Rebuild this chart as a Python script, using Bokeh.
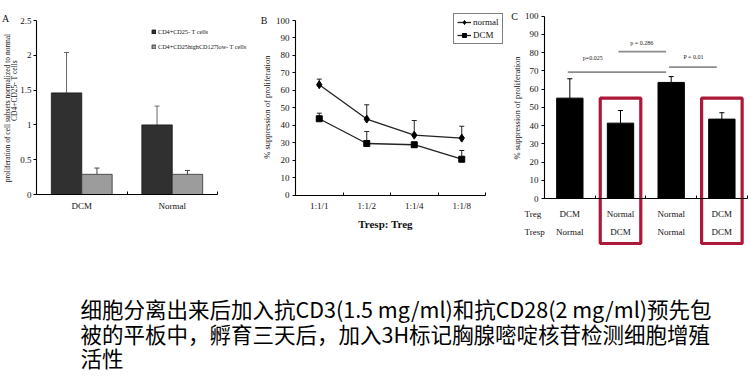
import math
import numpy as np
from bokeh.plotting import figure
from bokeh.models import (Range1d, FixedTicker, ColumnDataSource, Whisker, TeeHead,
                          Legend, LegendItem, NumeralTickFormatter)
from bokeh.layouts import column, row
from bokeh.embed import file_html
from bokeh.resources import INLINE
from bokeh.core.properties import value

# ---------------- data ----------------
# Panel A
a_groups = ["DCM", "Normal"]
a_series = ["CD4+CD25- T cells", "CD4+CD25highCD127low- T cells"]
a_teff = [1.46, 1.00]
a_teff_err = [0.58, 0.27]
a_treg = [0.29, 0.29]
a_treg_err = [0.09, 0.055]
a_yticks = [0, 0.5, 1, 1.5, 2, 2.5]
a_ylabel = ["proliferation of cell subsets normalized to normal", "CD4+CD25- T cells"]

# Panel B
b_ratios = ["1:1/1", "1:1/2", "1:1/4", "1:1/8"]
b_names = ["normal", "DCM"]
b_normal = [63.2, 43.5, 34.3, 32.6]
b_normal_err = [3.2, 8.2, 8.4, 6.8]
b_dcm = [43.7, 29.5, 28.8, 20.5]
b_dcm_err = [3.2, 6.9, 1.0, 5.0]
b_yticks = list(range(0, 101, 10))
b_xlabel = "Tresp: Treg"

# Panel C
c_treg = ["DCM", "Normal", "Normal", "DCM"]
c_tresp = ["Normal", "DCM", "Normal", "DCM"]
c_values = [55.0, 41.3, 63.6, 43.5]
c_err = [10.6, 6.9, 3.2, 3.5]
c_pairs = [(0, 2), (1, 2), (2, 3)]
c_pvalues = ["p=0.025", "p = 0.286", "P = 0.01"]
c_plevels = [69.2, 80.5, 72.0]
c_yticks = list(range(0, 101, 10))
ylabel_pct = "% suppression of proliferation"

caption = [
    "细胞分离出来后加入抗CD3(1.5 mg/ml)和抗CD28(2 mg/ml)预先包",
    "被的平板中，孵育三天后，加入3H标记胸腺嘧啶核苷检测细胞增殖",
    "活性",
]

# ---------------- style ----------------
SERIF = "Liberation Serif"
CJK = "Noto Sans CJK SC"
TXT = "#111111"


def panel(W, H, xpix, xdat, ypix, ydat):
    """Figure whose frame fills the canvas; data xdat/ydat land on pixels xpix/ypix."""
    sx = (xpix[1] - xpix[0]) / (xdat[1] - xdat[0])
    sy = (ypix[0] - ypix[1]) / (ydat[1] - ydat[0])
    x0 = xdat[0] - xpix[0] / sx
    y0 = ydat[0] - (H - ypix[0]) / sy
    p = figure(width=W, height=H, x_range=Range1d(x0, x0 + W / sx),
               y_range=Range1d(y0, y0 + H / sy), output_backend="svg",
               toolbar_location=None, min_border=0)
    p.outline_line_color = None
    p.xgrid.visible = False
    p.ygrid.visible = False
    p.background_fill_color = "white"
    p.border_fill_color = "white"
    for ax in (p.xaxis[0], p.yaxis[0]):
        ax.fixed_location = 0
        ax.axis_line_color = "black"
        ax.axis_line_width = 1.1
        ax.major_label_text_font = SERIF
        ax.major_label_text_font_size = "9px"
        ax.major_label_text_color = TXT
        ax.major_tick_line_color = "black"
        ax.minor_tick_line_color = "black"
    p.yaxis.major_tick_out = 3
    p.yaxis.major_tick_in = 0
    p.yaxis.minor_tick_line_color = None
    p.yaxis.major_label_standoff = 2
    p.yaxis.bounds = (ydat[0], ydat[1])
    p.xaxis.major_tick_in = 0
    p.xaxis.major_tick_out = 0
    p.xaxis.major_tick_line_color = None
    p.xaxis.minor_tick_in = 3
    p.xaxis.minor_tick_out = 0
    p.xaxis.major_label_standoff = 6
    p.xaxis.bounds = (xdat[0], xdat[1])

    def fx(px):
        return x0 + px / sx

    def fy(py):
        return y0 + (H - py) / sy
    return p, fx, fy


def txt(p, xs, ys, texts, size="9px", align="center", angle=0.0, style="normal", color=TXT):
    p.text(x=list(xs), y=list(ys), text=list(texts), angle=angle,
           text_font=value(SERIF), text_font_size=value(size), text_font_style=style,
           text_color=color, text_align=align, text_baseline="middle")


# ---------------- Panel A ----------------
na = len(a_groups)
pA, ax_, ay_ = panel(250, 250, (36, 217), (0, na), (194, 20), (0, a_yticks[-1]))
xa = np.arange(na) + 0.5
off = 0.168
srcA = ColumnDataSource(dict(
    x1=xa - off, x2=xa + off,
    teff=a_teff, teff_up=np.add(a_teff, a_teff_err),
    treg=a_treg, treg_up=np.add(a_treg, a_treg_err)))
rA1 = pA.vbar(x="x1", top="teff", bottom=0, width=0.336, source=srcA,
              fill_color="#303030", line_color="#151515", line_width=0.8)
rA2 = pA.vbar(x="x2", top="treg", bottom=0, width=0.336, source=srcA,
              fill_color="#9c9c9c", line_color="#303030", line_width=0.8)
pA.add_layout(Whisker(base="x1", lower="teff", upper="teff_up", source=srcA,
                      line_color="#6a6a6a", line_width=1, lower_head=None,
                      upper_head=TeeHead(size=5, line_color="#6a6a6a", line_width=1)))
pA.add_layout(Whisker(base="x2", lower="treg", upper="treg_up", source=srcA,
                      line_color="#444444", line_width=1, lower_head=None,
                      upper_head=TeeHead(size=5, line_color="#444444", line_width=1)))
pA.xaxis.ticker = FixedTicker(ticks=list(xa), minor_ticks=list(range(na + 1)))
pA.xaxis.major_label_overrides = {float(x): g for x, g in zip(xa, a_groups)}
pA.yaxis.ticker = FixedTicker(ticks=a_yticks)
pA.yaxis.formatter = NumeralTickFormatter(format="0.[0]")
legA = Legend(items=[LegendItem(label=a_series[0], renderers=[rA1]),
                     LegendItem(label=a_series[1], renderers=[rA2])],
              location=(151, 199), glyph_width=5, glyph_height=5,
              label_text_font=SERIF, label_text_font_size="6.2px", label_text_color=TXT,
              label_height=9, label_width=86, spacing=6, padding=0, margin=0,
              label_standoff=2, border_line_color=None, background_fill_alpha=0)
pA.add_layout(legA)
txt(pA, [ax_(7)], [ay_(107.5)], [a_ylabel[0]], size="7.5px", angle=math.pi / 2)
txt(pA, [ax_(14)], [ay_(90)], [a_ylabel[1]], size="7.5px", angle=math.pi / 2)
txt(pA, [ax_(5)], [ay_(18)], ["A"], size="10px")

# ---------------- Panel B ----------------
nb = len(b_ratios)
pB, bx_, by_ = panel(258, 250, (45, 235), (0, nb), (194.5, 20), (0, b_yticks[-1]))
xb = np.arange(nb) + 0.5
srcB = ColumnDataSource(dict(
    x=xb, normal=b_normal, normal_up=np.add(b_normal, b_normal_err),
    dcm=b_dcm, dcm_up=np.add(b_dcm, b_dcm_err)))
for lo, up in (("normal", "normal_up"), ("dcm", "dcm_up")):
    pB.add_layout(Whisker(base="x", lower=lo, upper=up, source=srcB,
                          line_color="#222222", line_width=1, lower_head=None,
                          upper_head=TeeHead(size=5, line_color="#222222", line_width=1)))
lN = pB.line("x", "normal", source=srcB, line_color="#222222", line_width=1.3)
sN = pB.scatter("x", "normal", source=srcB, marker="diamond", size=8,
                fill_color="black", line_color="black")
lD = pB.line("x", "dcm", source=srcB, line_color="#222222", line_width=1.3)
sD = pB.scatter("x", "dcm", source=srcB, marker="square", size=6,
                fill_color="black", line_color="black")
pB.xaxis.ticker = FixedTicker(ticks=list(xb), minor_ticks=list(range(nb + 1)))
pB.xaxis.major_label_overrides = {float(x): r for x, r in zip(xb, b_ratios)}
pB.yaxis.ticker = FixedTicker(ticks=b_yticks)
pB.yaxis.major_label_standoff = 3
legB = Legend(items=[LegendItem(label=b_names[0], renderers=[lN, sN]),
                     LegendItem(label=b_names[1], renderers=[lD, sD])],
              location=(203, 206), glyph_width=14, glyph_height=10,
              label_text_font=SERIF, label_text_font_size="9px", label_text_color=TXT,
              label_height=10, spacing=3, padding=3, margin=0, label_standoff=2,
              border_line_color="black", border_line_width=1,
              background_fill_color="white")
pB.add_layout(legB)
txt(pB, [bx_(16)], [by_(106.7)], [ylabel_pct], size="8.5px", angle=math.pi / 2)
txt(pB, [bx_(13.7)], [by_(20)], ["B"], size="10px")
txt(pB, [bx_(135)], [by_(223)], [b_xlabel], size="11px", style="bold")

# ---------------- Panel C ----------------
nc = len(c_values)
pC, cx_, cy_ = panel(243, 250, (36, 238.7), (0, nc), (198, 15.5), (0, c_yticks[-1]))
xc = np.arange(nc) + 0.5
srcC = ColumnDataSource(dict(x=xc, v=c_values, up=np.add(c_values, c_err)))
# red frames around the groups whose responders are DCM
hi = [float(x) for x, t in zip(xc, c_tresp) if t == "DCM"]
box_top, box_bottom = 55.0, cy_(243)
pC.rect(x=hi, y=[(box_top + box_bottom) / 2] * len(hi), width=0.8,
        height=box_top - box_bottom, fill_color=None, line_color="#ad1738",
        line_width=3.2)
pC.vbar(x="x", top="v", bottom=0, width=0.52, source=srcC,
        fill_color="black", line_color="black")
pC.add_layout(Whisker(base="x", lower="v", upper="up", source=srcC,
                      line_color="black", line_width=1, lower_head=None,
                      upper_head=TeeHead(size=5, line_color="black", line_width=1)))
# significance bars
x0 = [i + 0.46 for i, j in c_pairs]
x1 = [j + 0.40 for i, j in c_pairs]
pC.segment(x0=x0, y0=c_plevels, x1=x1, y1=c_plevels, line_color="#8c8c8c", line_width=1.8)
p_label_px = [(84.3, 57.7), (133.3, 42.7), (185.0, 56.7)]
txt(pC, [cx_(q[0]) for q in p_label_px], [cy_(q[1]) for q in p_label_px], c_pvalues,
    size="6px", color="#222222")
pC.xaxis.ticker = FixedTicker(ticks=list(xc), minor_ticks=list(range(nc + 1)))
pC.xaxis.major_label_overrides = {float(x): "" for x in xc}
pC.xaxis.major_label_standoff = 0
pC.yaxis.ticker = FixedTicker(ticks=c_yticks)
pC.yaxis.major_label_standoff = 3
row_py = [213.3, 231.7]
txt(pC, xc, [cy_(row_py[0])] * nc, c_treg)
txt(pC, xc, [cy_(row_py[1])] * nc, c_tresp)
txt(pC, [cx_(16)] * 2, [cy_(v) for v in row_py], ["Treg", "Tresp"], align="left")
txt(pC, [cx_(8.7)], [cy_(107.5)], [ylabel_pct], size="8.5px", angle=math.pi / 2)
txt(pC, [cx_(6)], [cy_(15.7)], ["C"], size="10px")

# ---------------- caption ----------------
pCap = figure(width=751, height=132, x_range=Range1d(0, 751), y_range=Range1d(132, 0),
              output_backend="svg", toolbar_location=None, x_axis_type=None,
              y_axis_type=None, min_border=0)
pCap.outline_line_color = None
pCap.xgrid.visible = False
pCap.ygrid.visible = False
pCap.text(x=[80] * len(caption), y=[58 + 24.5 * i for i in range(len(caption))],
          text=caption, text_font=value(CJK), text_font_size=value("21.5px"),
          text_color="black", text_align="left", text_baseline="middle")

layout = column(row(pA, pB, pC), pCap)
open("out.html", "w").write(file_html(layout, INLINE))
